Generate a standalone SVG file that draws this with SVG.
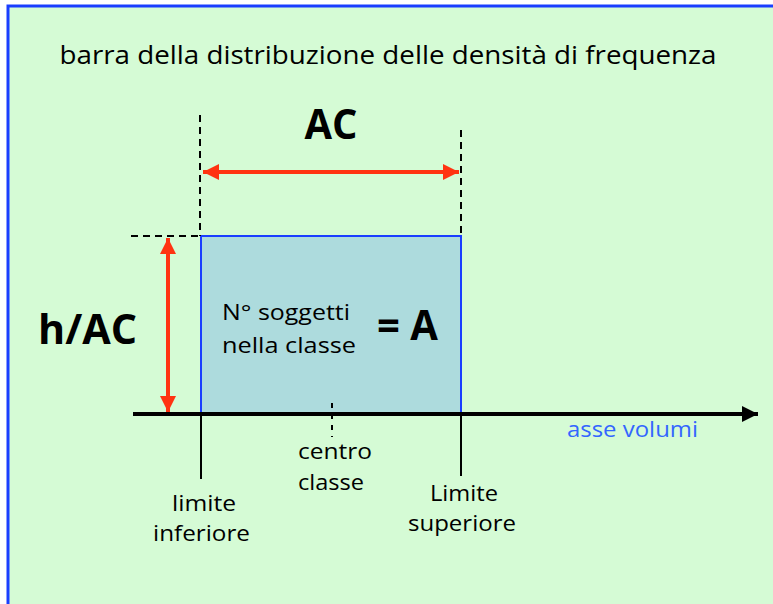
<svg xmlns="http://www.w3.org/2000/svg" width="773" height="604" viewBox="0 0 773 604">
<defs>
<style>
text{font-family:"Open Sans","Liberation Sans",sans-serif;fill:#000}
.t{font-size:22.5px}
.b{font-weight:bold;font-size:41px}
.dash{stroke:#000;stroke-width:2;stroke-dasharray:7,5;fill:none}
.red{stroke:#FF3311;stroke-width:4;fill:none}
.tick{stroke:#000;stroke-width:2}
</style>
<marker id="ra" viewBox="0 0 10 10" refX="10" refY="5" markerWidth="4.2" markerHeight="4" orient="auto-start-reverse" markerUnits="strokeWidth">
<path d="M0,0L10,5L0,10z" fill="#FF3311"/>
</marker>
<marker id="ka" viewBox="0 0 10 10" refX="10" refY="5" markerWidth="4" markerHeight="4.2" orient="auto" markerUnits="strokeWidth">
<path d="M0,0L10,5L0,10z" fill="#000"/>
</marker>
</defs>
<rect x="0" y="0" width="773" height="604" fill="#fff"/>
<rect x="8" y="6" width="775" height="610" fill="#D5FBD5" stroke="#1A3EFF" stroke-width="3"/>
<text x="388" y="64" text-anchor="middle" font-size="25" textLength="657" lengthAdjust="spacingAndGlyphs">barra della distribuzione delle densità di frequenza</text>

<g id="bar">
<rect x="201" y="236" width="260" height="178" fill="#ADDBDD" stroke="#1A3EFF" stroke-width="2"/>
<text class="t" x="222" y="320" textLength="128" lengthAdjust="spacingAndGlyphs">N° soggetti</text>
<text class="t" x="222" y="353" textLength="134" lengthAdjust="spacingAndGlyphs">nella classe</text>
<text class="b" x="377" y="340" textLength="61" lengthAdjust="spacingAndGlyphs">= A</text>
</g>

<g id="connectors">
<line class="dash" x1="200" y1="115" x2="200" y2="236"/>
<line class="dash" x1="461" y1="130" x2="461" y2="236"/>
<line class="dash" x1="131" y1="236" x2="200" y2="236"/>
<line class="red" x1="203" y1="172" x2="459" y2="172" marker-start="url(#ra)" marker-end="url(#ra)"/>
<line class="red" x1="168" y1="238" x2="168" y2="412" marker-start="url(#ra)" marker-end="url(#ra)"/>
<line x1="133" y1="414" x2="758" y2="414" stroke="#000" stroke-width="4" marker-end="url(#ka)"/>
<line class="tick" x1="201" y1="414" x2="201" y2="479"/>
<line class="tick" x1="461" y1="414" x2="461" y2="476"/>
<line x1="332" y1="403" x2="332" y2="437" stroke="#000" stroke-width="2" stroke-dasharray="5,6"/>
</g>

<g id="labels">
<text class="b" x="331" y="139" text-anchor="middle" textLength="53" lengthAdjust="spacingAndGlyphs">AC</text>
<text class="b" x="38" y="344" textLength="99" lengthAdjust="spacingAndGlyphs">h/AC</text>
<text x="567" y="437" font-size="22.5" style="fill:#3366FF" textLength="131" lengthAdjust="spacingAndGlyphs">asse volumi</text>
<text class="t" x="298" y="459" textLength="74" lengthAdjust="spacingAndGlyphs">centro</text>
<text class="t" x="298" y="490" textLength="66" lengthAdjust="spacingAndGlyphs">classe</text>
<text class="t" x="172" y="511" textLength="64" lengthAdjust="spacingAndGlyphs">limite</text>
<text class="t" x="153" y="541" textLength="97" lengthAdjust="spacingAndGlyphs">inferiore</text>
<text class="t" x="430" y="501" textLength="68" lengthAdjust="spacingAndGlyphs">Limite</text>
<text class="t" x="408" y="531" textLength="108" lengthAdjust="spacingAndGlyphs">superiore</text>
</g>
</svg>
